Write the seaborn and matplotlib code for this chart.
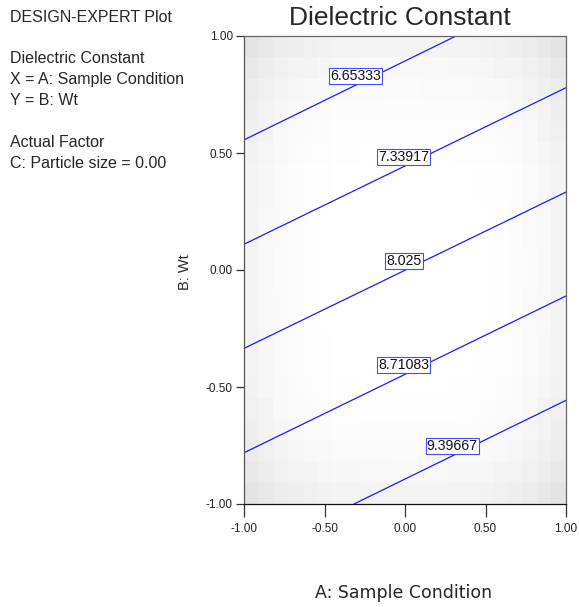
import numpy as np
import pandas as pd
import matplotlib
matplotlib.use("Agg")
import matplotlib.pyplot as plt
import seaborn as sns

# Contour levels and the end points of each (straight) contour line
levels = [6.65333, 7.33917, 8.025, 8.71083, 9.39667]
a_start = [-1.00, -1.00, -1.00, -1.00, -0.317]
b_start = [0.556, 0.110, -0.335, -0.781, -1.00]
a_end = [0.317, 1.00, 1.00, 1.00, 1.00]
b_end = [1.00, 0.779, 0.333, -0.111, -0.557]

# label positions (A, B) for each contour
label_a = [-0.307, -0.008, -0.007, -0.008, 0.293]
label_b = [0.828, 0.484, 0.038, -0.407, -0.753]

ticks = [-1.0, -0.5, 0.0, 0.5, 1.0]

info_lines = ["DESIGN-EXPERT Plot", "", "Dielectric Constant", "X = A: Sample Condition",
              "Y = B: Wt", "", "Actual Factor", "C: Particle size = 0.00"]

rows = []
for i, lev in enumerate(levels):
    rows.append({"level": lev, "A": a_start[i], "B": b_start[i]})
    rows.append({"level": lev, "A": a_end[i], "B": b_end[i]})
df = pd.DataFrame(rows)

sns.set_style("white")
plt.rcParams['font.family'] = ['Liberation Sans', 'DejaVu Sans']

fig = plt.figure(figsize=(5.79, 6.07), dpi=100)
ax = fig.add_axes([244 / 579, 1 - 504 / 607, 322 / 579, 468 / 607])

# soft grey shading towards the edges of the design space (background only)
gx, gy = np.meshgrid(np.linspace(-1, 1, 22), np.linspace(-1, 1, 22))
shade = 1 - 0.09 * (gx ** 4 + gy ** 4) / 2 - 0.02 * (gx ** 2 * gy ** 2)
ax.imshow(shade, extent=[-1, 1, -1, 1], origin="lower", cmap="gray", vmin=0, vmax=1,
          aspect="auto", interpolation="nearest", zorder=0)

sns.lineplot(data=df, x="A", y="B", units="level", estimator=None, sort=False,
             color="#1a1aff", linewidth=0.9, ax=ax, legend=False, zorder=2)

for i, lev in enumerate(levels):
    txt = f"{lev:.5f}".rstrip("0")
    ax.text(label_a[i], label_b[i], txt, ha="center", va="center", fontsize=10.2,
            color="#111111", zorder=3,
            bbox=dict(boxstyle="square,pad=0.08", fc="white", ec="#4a4aff", lw=0.8))

ax.set_xlim(-1, 1)
ax.set_ylim(-1, 1)
ax.set_xticks(ticks)
ax.set_yticks(ticks)
ax.set_xticklabels([f"{t:.2f}" for t in ticks], fontsize=8.5, color="#222222")
ax.set_yticklabels([f"{t:.2f}" for t in ticks], fontsize=8.5, color="#222222")
ax.tick_params(axis="x", direction="out", length=9.5, width=0.9, color="#333333", pad=4, bottom=True)
ax.tick_params(axis="y", direction="out", length=6, width=0.9, color="#333333", pad=2, left=True)
for s in ax.spines.values():
    s.set_color("#666666")
    s.set_linewidth(0.9)
ax.spines["bottom"].set_color("#111111")
ax.spines["left"].set_color("#555555")

ax.set_xlabel("")
ax.set_ylabel("")
fig.text(404 / 579, 1 - 593 / 607, "A: Sample Condition", ha="center", va="center",
         fontsize=12.5, family=["DejaVu Sans"])
fig.text(185 / 579, 1 - 272 / 607, "B: Wt", ha="center", va="center", rotation=90,
         fontsize=10.5)
fig.text(400 / 579, 1 - 18 / 607, "Dielectric Constant", ha="center", va="center",
         fontsize=19)

y = 17
for line in info_lines:
    if line:
        fig.text(10 / 579, 1 - y / 607, line, ha="left", va="center", fontsize=11.5)
    y += 20.8 if line else 21.0

fig.savefig("out.png", dpi=100)
